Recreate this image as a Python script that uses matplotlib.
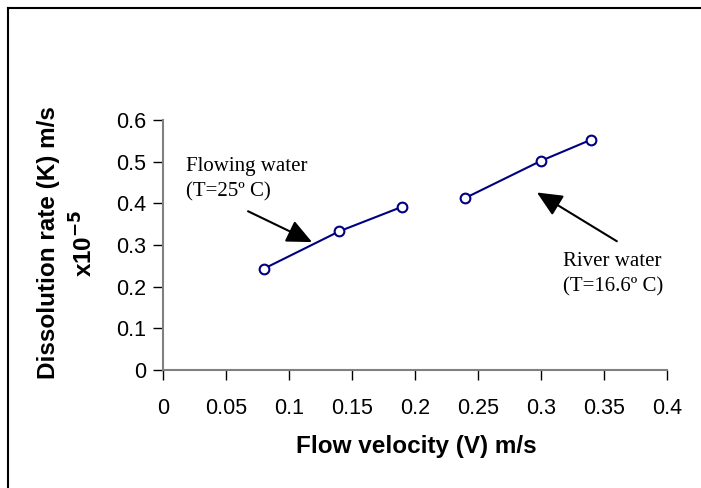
import matplotlib.pyplot as plt
from matplotlib.lines import Line2D

# Data
flow_v = [0.08, 0.14, 0.19]
flow_k = [0.243, 0.333, 0.392]
river_v = [0.24, 0.30, 0.34]
river_k = [0.413, 0.502, 0.553]

xticks = [0, 0.05, 0.1, 0.15, 0.2, 0.25, 0.3, 0.35, 0.4]
yticks = [0, 0.1, 0.2, 0.3, 0.4, 0.5, 0.6]
xlabels = ['0', '0.05', '0.1', '0.15', '0.2', '0.25', '0.3', '0.35', '0.4']
ylabels = ['0', '0.1', '0.2', '0.3', '0.4', '0.5', '0.6']

W, H = 701, 488
fig = plt.figure(figsize=(W / 100, H / 100), dpi=100)
ax = fig.add_axes([163 / W, (H - 370) / H, (667 - 163) / W, 250 / H])

line_kw = dict(color='#000080', lw=1.5, marker='o', markersize=7,
               markerfacecolor='white', markeredgecolor='#000080',
               markeredgewidth=1.5)
ax.plot(flow_v, flow_k, **line_kw)
ax.plot(river_v, river_k, **line_kw)

ax.set_xlim(0, 0.4)
ax.set_ylim(0, 0.6)
ax.set_xticks(xticks)
ax.set_xticklabels(xlabels)
ax.set_yticks(yticks)
ax.set_yticklabels(ylabels)
ax.tick_params(labelsize=15.5, length=7, width=1, color='black')
ax.tick_params(axis='x', pad=13)
ax.tick_params(axis='y', pad=5)
for lbl in ax.get_xticklabels() + ax.get_yticklabels():
    lbl.set_family('Liberation Sans')

for side in ['top', 'right']:
    ax.spines[side].set_visible(False)
for side in ['left', 'bottom']:
    ax.spines[side].set_color('#808080')
    ax.spines[side].set_linewidth(1.5)

ax.set_xlabel('Flow velocity (V) m/s', fontsize=17.5, fontweight='bold',
              family='Liberation Sans', va='center')
ax.xaxis.set_label_coords(0.502, -0.308)
ax.set_ylabel('Dissolution rate (K) m/s\nx10$^{\\mathbf{-5}}$', fontsize=17.5,
              fontweight='bold', family='Liberation Sans', va='center',
              linespacing=1.45)
ax.yaxis.set_label_coords(-0.19, 0.508)

# Annotations with arrows
arrow = dict(arrowstyle='-|>,head_length=0.7,head_width=0.32', color='black',
             lw=1.5, mutation_scale=22, shrinkA=0, shrinkB=0)
ax.annotate('', xy=(0.1183, 0.307), xytext=(0.0675, 0.381), arrowprops=arrow)
ax.annotate('', xy=(0.2968, 0.426), xytext=(0.3602, 0.309), arrowprops=arrow)
ax.text(0.0183, 0.458, 'Flowing water\n(T=25º C)', fontsize=15,
        family='Liberation Serif', va='center', ha='left', linespacing=1.4)
ax.text(0.3175, 0.230, 'River water\n(T=16.6º C)', fontsize=15,
        family='Liberation Serif', va='center', ha='left', linespacing=1.4)

# Outer frame (top and left edges visible)
fig.add_artist(Line2D([8 / W, 1], [1 - 8 / H, 1 - 8 / H], color='black',
                      lw=1.5, transform=fig.transFigure))
fig.add_artist(Line2D([8 / W, 8 / W], [0, 1 - 8 / H], color='black',
                      lw=1.5, transform=fig.transFigure))

fig.savefig('out.png', dpi=100)
